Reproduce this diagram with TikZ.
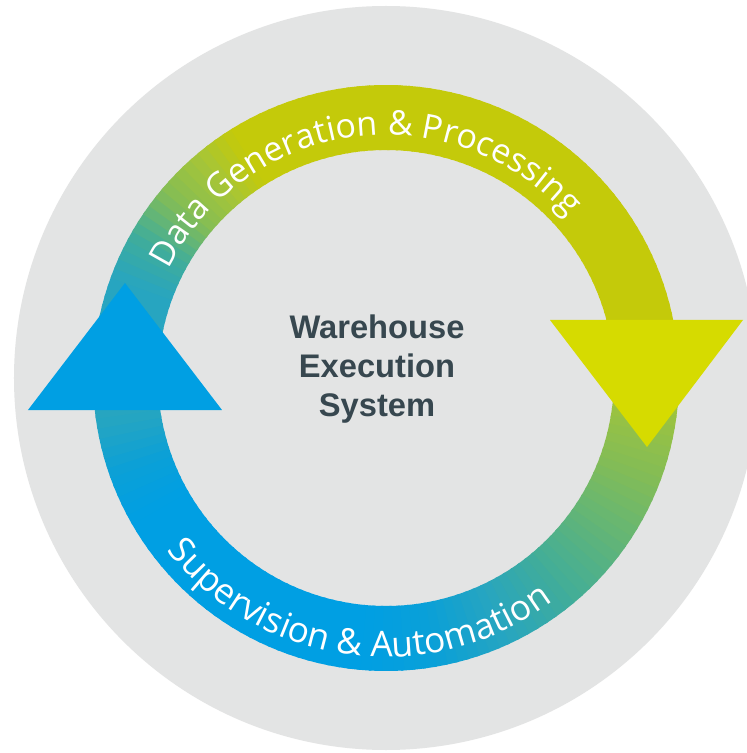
\documentclass[tikz,border=0pt]{standalone}
\usepackage{fontspec}
\setmainfont{Open Sans}
\newfontfamily\wesfont{Liberation Sans}
\usepackage{tikz}
\usepackage{xcolor}
\usetikzlibrary{positioning,decorations.text}

\definecolor{bggray}{HTML}{E3E4E4}
\definecolor{wesslate}{HTML}{37474F}
\definecolor{ringolive}{HTML}{C4CA0A}
\definecolor{ringlime}{HTML}{A6C537}
\definecolor{ringleaf}{HTML}{84BD55}
\definecolor{ringgreen}{HTML}{62B577}
\definecolor{ringsea}{HTML}{41AD99}
\definecolor{ringteal}{HTML}{27A5C0}
\definecolor{ringcyan}{HTML}{0AA0D8}
\definecolor{ringblue}{HTML}{009FE3}
\definecolor{arrowyellow}{HTML}{D6DB00}

\newcommand{\ringfont}{\fontsize{25.5}{30}\selectfont}
\newcommand{\ringfontlow}{\fontsize{26.5}{31}\selectfont}

\begin{document}
\begin{tikzpicture}[x=0.75pt, y=0.75pt,
  title/.style={
    font=\wesfont\bfseries\fontsize{24.5}{29.25}\selectfont,
    text=wesslate, align=center, inner sep=0pt
  },
  ring label/.style={
    decorate, decoration={text along path, text align=center,
      text color=white, text={#1}}
  }
]

\fill[white] (-386,-375) rectangle (360,378);
\useasboundingbox (-386,-375) rectangle (360,378);

% Background disc
\fill[bggray] (0,0) circle[radius=372];

% Ring
\def\rin{228}
\def\rout{293}
\foreach \ta/\tb/\ca/\cb in {
    10/0/ringolive/ringolive, 0/-1/ringlime/ringlime,
    -1/-20/ringlime/ringleaf, -20/-35/ringleaf/ringgreen,
    -35/-50/ringgreen/ringsea, -50/-65/ringsea/ringteal,
    -65/-80/ringteal/ringcyan, -80/-95/ringcyan/ringblue,
    -95/-150/ringblue/ringblue, -150/-160/ringblue/ringcyan,
    -160/-172/ringcyan/ringteal, -172/-200/ringteal/ringteal,
    -200/-210/ringteal/ringsea, -210/-220/ringsea/ringleaf,
    -220/-230/ringleaf/ringlime, -230/-238/ringlime/ringolive,
    -238/-351/ringolive/ringolive}{
  \pgfmathtruncatemacro{\n}{max(1,abs(\tb-\ta)/2)}
  \foreach \k in {1,...,\n}{
    \pgfmathsetmacro{\angA}{\ta+(\tb-\ta)*(\k-1)/\n}
    \pgfmathsetmacro{\angB}{\ta+(\tb-\ta)*\k/\n-0.6}
    \pgfmathtruncatemacro{\pc}{100*(\k-0.5)/\n}
    \fill[fill=\cb!\pc!\ca] (\angA:\rin)
      arc[start angle=\angA, end angle=\angB, radius=\rin]
      -- (\angB:\rout)
      arc[start angle=\angB, end angle=\angA, radius=\rout] -- cycle;
  }
}

% Arrow heads
\fill[ringblue] (-358,-32) -- (-164,-32) -- (-261,95) -- cycle;
\fill[arrowyellow] (164,58) -- (357,58) -- (261,-69) -- cycle;

% Labels
\path[ring label={|\ringfont|Data Generation {\&} Processing}]
  (170:243) arc[start angle=170, end angle=25, radius=243];
\path[ring label={|\ringfontlow|Supervision {\&} Automation}]
  (-170:279) arc[start angle=-170, end angle=-25, radius=279];

\node[title] (wes) at (-9,9) {Warehouse\\Execution\\System};

\end{tikzpicture}
\end{document}
